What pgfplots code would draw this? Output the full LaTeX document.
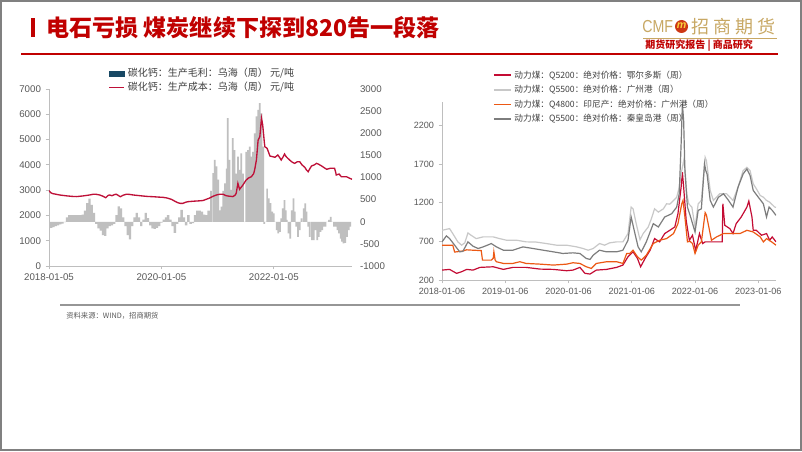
\documentclass[border=0pt]{standalone}
\usepackage{fontspec}
\setmainfont{Liberation Sans}
\newfontfamily\cjk{Noto Sans CJK SC}
\usepackage{graphicx}
\usepackage{pgfplots}
\pgfplotsset{compat=1.18}

\definecolor{costred}{RGB}{190,16,56}
\definecolor{bargray}{RGB}{191,191,191}
\definecolor{legteal}{RGB}{24,72,100}
\definecolor{ordred}{RGB}{196,12,52}
\definecolor{gzgray}{RGB}{200,200,200}
\definecolor{indorange}{RGB}{236,88,20}
\definecolor{qhdgray}{RGB}{125,125,125}
\definecolor{titlered}{RGB}{192,0,0}
\definecolor{gold}{RGB}{200,168,100}
\definecolor{axgray}{RGB}{190,190,190}
\definecolor{txtgray}{RGB}{89,89,89}
\definecolor{legtxt}{RGB}{64,64,64}
\definecolor{framegray}{RGB}{128,128,128}
\definecolor{logored}{RGB}{205,55,20}
\definecolor{logoyellow}{RGB}{250,210,60}
\definecolor{srcline}{RGB}{150,150,150}

\pgfplotsset{
  every axis/.append style={
    scale only axis,
    /pgf/number format/assume math mode=true,
    /pgf/number format/1000 sep={},
    axis line style={axgray, line width=0.6pt},
    tick style={axgray, line width=0.6pt},
    tick align=outside,
    major tick length=2.5pt,
  },
}

\begin{document}
\begin{tikzpicture}
\useasboundingbox (0,0) rectangle (601.5pt,338.25pt);
\fill[white] (0,0) rectangle (601.5pt,338.25pt);
\begin{scope}[x=0.75pt,y=-0.75pt,yshift=338.25pt]
\draw[framegray, line width=1.3pt] (1,1) rectangle (801,450);
% title
\fill[titlered] (31,18) rectangle (34.5,37);
\node[anchor=west, inner sep=0pt, text=titlered, font=\cjk\bfseries\fontsize{17.3}{20}\selectfont] at (46,27.5) {电石亏损 煤炭继续下探到820告一段落};
\draw[titlered, line width=0.9pt] (21,54) -- (778,54);
% logo
\node[anchor=west, inner sep=0pt, text=gold, font=\fontsize{13}{14}\selectfont] at (642,27) {\scalebox{0.82}[1]{CMF}};
\fill[logored] (681.5,26.5) circle (6.5);
\node[text=logoyellow, inner sep=0pt, font=\bfseries\itshape\fontsize{8}{8}\selectfont] at (681.5,26) {m};
\node[anchor=west, inner sep=0pt, text=gold, font=\cjk\fontsize{13.5}{14}\selectfont] at (691,27) {\makebox[63pt][l]{招\hfill 商\hfill 期\hfill 货}};
\draw[gold, line width=0.6pt] (643,38.5) -- (777,38.5);
\node[anchor=west, inner sep=0pt, text=titlered, font=\cjk\bfseries\fontsize{7.5}{9}\selectfont] at (645,46) {期货研究报告 | 商品研究};
% source
\draw[srcline, line width=1.2pt] (60,305) -- (740,305);
\node[anchor=west, inner sep=0pt, text=txtgray, font=\cjk\fontsize{5.5}{6}\selectfont] at (66,316) {资料来源：WIND，招商期货};
\end{scope}

% ---------------- Left chart: bars (right axis)
\begin{axis}[at={(36.75pt,138.75pt)}, anchor=south west, width=227.25pt, height=132.75pt,
  xmin=2018, xmax=2023.39, ymin=-1000, ymax=3000,
  axis x line=none, xtick=\empty,
  axis y line*=right, y axis line style={draw=none}, ytick style={draw=none},
  ytick={-1000,-500,0,500,1000,1500,2000,2500,3000},
  yticklabels={-1000,-500,0,500,1000,1500,2000,2500,3000},
  tick label style={font=\fontsize{7.3}{9}\selectfont, text=txtgray},
]
\addplot[ybar, bar width=0.042, bar shift=0pt, fill=bargray, draw=none] table {
2018.00 -150
2018.04 -140
2018.08 -120
2018.12 -100
2018.16 -80
2018.20 -60
2018.24 -40
2018.28 -10
2018.32 100
2018.36 150
2018.40 150
2018.44 150
2018.48 150
2018.52 150
2018.56 150
2018.60 160
2018.64 250
2018.68 420
2018.72 520
2018.76 380
2018.80 200
2018.84 -50
2018.88 -150
2018.92 -200
2018.96 -300
2019.00 -320
2019.04 -150
2019.08 -100
2019.12 -80
2019.16 -50
2019.20 150
2019.24 350
2019.28 300
2019.32 100
2019.36 -100
2019.40 -300
2019.44 -400
2019.48 -100
2019.52 100
2019.56 200
2019.60 100
2019.64 -100
2019.68 50
2019.72 200
2019.76 80
2019.80 -80
2019.84 -150
2019.88 -160
2019.92 -140
2019.96 -100
2020.00 -20
2020.04 50
2020.08 100
2020.12 150
2020.16 50
2020.20 -100
2020.24 -250
2020.28 -50
2020.32 100
2020.36 270
2020.40 100
2020.44 -80
2020.48 150
2020.52 -50
2020.56 -30
2020.60 150
2020.64 250
2020.68 250
2020.72 230
2020.76 160
2020.80 150
2020.84 250
};
\addplot[ybar, bar width=0.031, bar shift=0pt, fill=bargray, draw=none] table {
2020.88 700
2020.92 1100
2020.95 1400
2020.98 1250
2021.01 950
2021.04 260
2021.07 340
2021.10 700
2021.13 870
2021.16 1200
2021.18 2340
2021.21 1400
2021.24 720
2021.27 1890
2021.30 1620
2021.33 1090
2021.36 1470
2021.39 1170
2021.42 1545
2021.45 1090
2021.48 0
2021.51 1580
2021.54 1620
2021.57 1700
2021.60 1470
2021.63 1580
2021.66 2000
2021.69 2380
2021.72 2530
2021.75 2680
2021.78 2450
2021.81 1700
2021.83 -50
2021.85 0
2021.88 750
2021.91 530
2021.94 420
2021.97 230
2022.00 190
2022.03 0
2022.05 -190
2022.08 -260
2022.11 -230
2022.13 75
2022.16 300
2022.19 490
2022.21 260
2022.23 40
2022.26 -260
2022.29 -380
2022.32 260
2022.35 530
2022.37 230
2022.40 -110
2022.43 -340
2022.46 -190
2022.49 75
2022.53 300
2022.56 415
2022.58 230
2022.61 -110
2022.64 -340
2022.68 -415
2022.71 -415
2022.74 -190
2022.77 -415
2022.80 -340
2022.83 -230
2022.86 -190
2022.89 -110
2022.92 -110
2022.95 0
2022.98 40
2023.01 110
2023.04 0
2023.07 -110
2023.10 -110
2023.13 -190
2023.16 -260
2023.19 -380
2023.21 -450
2023.24 -490
2023.27 -475
2023.30 -340
2023.33 -190
2023.36 -110
};
\end{axis}

% ---------------- Left chart: cost line (left axis)
\begin{axis}[at={(36.75pt,138.75pt)}, anchor=south west, width=227.25pt, height=132.75pt,
  xmin=2018, xmax=2023.39, ymin=0, ymax=7000,
  axis x line*=bottom, axis y line*=left,
  xtick={2018,2020,2022}, xticklabels={2018-01-05,2020-01-05,2022-01-05},
  ytick={0,1000,2000,3000,4000,5000,6000,7000},
  yticklabels={0,1000,2000,3000,4000,5000,6000,7000},
  tick label style={font=\fontsize{7.3}{9}\selectfont, text=txtgray},
  legend style={at={(0.507,1.135)}, anchor=north, draw=none, fill=none,
    font=\cjk\fontsize{7.5}{9}\selectfont, text=legtxt, row sep=-1.2pt, inner sep=0pt},
  legend cell align=left,
]
\addlegendimage{legend image code/.code={\fill[legteal] (0pt,-1.9pt) rectangle (11.25pt,1.9pt);}}
\addlegendentry{碳化钙：生产毛利：乌海（周） 元/吨}
\addlegendimage{legend image code/.code={\draw[costred, line width=1.3pt] (0pt,0pt) -- (11.25pt,0pt);}}
\addlegendentry{碳化钙：生产成本：乌海（周） 元/吨}
\addplot[costred, line width=1pt, forget plot] table {
2018.00 2980
2018.03 2900
2018.07 2860
2018.12 2840
2018.19 2808
2018.31 2775
2018.40 2755
2018.49 2745
2018.60 2770
2018.72 2808
2018.78 2835
2018.84 2835
2018.90 2810
2018.96 2760
2019.01 2700
2019.05 2790
2019.08 2810
2019.12 2780
2019.17 2830
2019.20 2835
2019.24 2780
2019.27 2740
2019.32 2800
2019.38 2840
2019.44 2830
2019.50 2808
2019.60 2785
2019.67 2768
2019.76 2750
2019.85 2741
2019.95 2725
2020.03 2715
2020.10 2690
2020.18 2635
2020.24 2560
2020.29 2503
2020.34 2475
2020.38 2477
2020.43 2520
2020.47 2543
2020.55 2560
2020.62 2570
2020.68 2578
2020.74 2590
2020.80 2640
2020.86 2690
2020.92 2760
2020.98 2810
2021.04 2840
2021.10 2835
2021.14 2790
2021.18 2768
2021.27 2745
2021.31 2800
2021.33 2875
2021.36 3270
2021.39 3033
2021.42 3120
2021.45 3203
2021.50 3380
2021.54 3468
2021.60 3532
2021.64 3650
2021.66 3824
2021.69 4200
2021.72 4983
2021.75 5114
2021.77 5600
2021.78 5841
2021.80 5600
2021.81 5379
2021.83 4900
2021.84 4718
2021.88 4654
2021.93 4350
2022.02 4299
2022.07 4390
2022.10 4300
2022.13 4192
2022.16 4300
2022.19 4429
2022.21 4350
2022.23 4299
2022.28 4192
2022.33 4100
2022.37 4061
2022.42 4125
2022.46 4125
2022.50 4000
2022.55 3903
2022.58 3800
2022.61 3729
2022.64 3850
2022.67 3955
2022.72 4000
2022.76 4061
2022.80 4020
2022.85 3955
2022.90 3880
2022.94 3824
2023.00 3863
2023.08 3863
2023.10 3700
2023.11 3599
2023.16 3638
2023.20 3532
2023.29 3532
2023.35 3468
2023.39 3430
};
\end{axis}

% ---------------- Right chart
\begin{axis}[at={(331.5pt,128.25pt)}, anchor=south west, width=250.5pt, height=133.5pt,
  xmin=2018, xmax=2023.28, ymin=200, ymax=2500,
  axis x line*=bottom, axis y line*=left,
  xtick={2018,2019,2020,2021,2022,2023},
  xticklabels={2018-01-06,2019-01-06,2020-01-06,2021-01-06,2022-01-06,2023-01-06},
  ytick={200,700,1200,1700,2200},
  yticklabels={200,700,1200,1700,2200},
  tick label style={font=\fontsize{6.8}{8}\selectfont, text=txtgray},
  legend style={at={(0.152,1.193)}, anchor=north west, draw=none, fill=none,
    font=\cjk\fontsize{6.5}{8}\selectfont, text=legtxt, row sep=-0.1pt, inner sep=0pt},
  legend cell align=left,
]
\addlegendimage{legend image code/.code={\draw[ordred, line width=1.3pt] (0pt,0pt) -- (12.75pt,0pt);}}
\addlegendentry{动力煤：Q5200：绝对价格：鄂尔多斯（周）}
\addlegendimage{legend image code/.code={\draw[gzgray, line width=1.3pt] (0pt,0pt) -- (12.75pt,0pt);}}
\addlegendentry{动力煤：Q5500：绝对价格：广州港（周）}
\addlegendimage{legend image code/.code={\draw[indorange, line width=1.3pt] (0pt,0pt) -- (12.75pt,0pt);}}
\addlegendentry{动力煤：Q4800：印尼产：绝对价格：广州港（周）}
\addlegendimage{legend image code/.code={\draw[qhdgray, line width=1.3pt] (0pt,0pt) -- (12.75pt,0pt);}}
\addlegendentry{动力煤：Q5500：绝对价格：秦皇岛港（周）}
\addplot[ordred, line width=0.9pt, forget plot] table {
2018.00 328
2018.12 337
2018.23 286
2018.31 307
2018.39 337
2018.49 328
2018.60 363
2018.81 371
2018.97 337
2019.12 363
2019.33 363
2019.55 341
2019.76 337
2019.97 320
2020.07 328
2020.18 363
2020.26 286
2020.34 277
2020.44 328
2020.60 337
2020.76 363
2020.86 393
2020.94 500
2021.02 564
2021.09 478
2021.14 371
2021.21 478
2021.29 585
2021.36 735
2021.44 693
2021.52 800
2021.60 842
2021.68 885
2021.73 1056
2021.78 1400
2021.80 1592
2021.82 1400
2021.86 970
2021.91 714
2021.96 778
2022.01 580
2022.07 800
2022.12 671
2022.16 693
2022.43 693
2022.44 1185
2022.47 907
2022.55 864
2022.60 800
2022.65 928
2022.73 1014
2022.82 1142
2022.85 1220
2022.90 1014
2022.92 842
2022.97 842
2023.05 778
2023.13 800
2023.18 714
2023.22 757
2023.28 693
};
\addplot[gzgray, line width=0.9pt, forget plot] table {
2018.00 842
2018.07 855
2018.12 864
2018.17 800
2018.25 693
2018.31 650
2018.36 680
2018.41 808
2018.46 778
2018.54 735
2018.65 757
2018.81 757
2018.91 735
2019.02 714
2019.18 714
2019.33 693
2019.49 690
2019.65 671
2019.81 650
2019.97 650
2020.13 628
2020.23 607
2020.31 585
2020.39 607
2020.49 671
2020.57 650
2020.65 680
2020.76 693
2020.86 693
2020.94 800
2020.99 1142
2021.02 1120
2021.07 928
2021.13 720
2021.18 800
2021.26 885
2021.31 992
2021.36 1120
2021.42 1078
2021.50 1120
2021.55 1185
2021.60 1180
2021.66 1228
2021.71 1270
2021.75 1400
2021.79 1613
2021.82 1742
2021.84 1650
2021.87 1314
2021.90 1185
2021.95 1142
2022.00 880
2022.05 1185
2022.10 1228
2022.16 1785
2022.18 1742
2022.24 1357
2022.29 1228
2022.39 1314
2022.50 1314
2022.60 1228
2022.68 1400
2022.76 1613
2022.82 1656
2022.87 1613
2022.92 1442
2022.97 1378
2023.03 1292
2023.08 1270
2023.13 1228
2023.18 1206
2023.26 1142
2023.28 1140
};
\addplot[indorange, line width=0.9pt, forget plot] table {
2018.00 650
2018.17 650
2018.20 561
2018.33 575
2018.39 590
2018.49 585
2018.62 580
2018.64 457
2018.78 457
2018.81 480
2018.82 564
2018.84 457
2018.86 436
2018.97 414
2019.12 414
2019.23 436
2019.33 414
2019.55 405
2019.76 393
2019.97 405
2020.07 423
2020.18 414
2020.28 371
2020.36 350
2020.44 414
2020.60 436
2020.76 436
2020.86 414
2020.92 543
2020.97 543
2021.02 585
2021.09 500
2021.15 457
2021.23 521
2021.34 671
2021.44 714
2021.55 735
2021.66 800
2021.73 928
2021.79 1185
2021.81 1228
2021.84 1014
2021.88 693
2021.92 700
2021.96 671
2022.00 543
2022.05 650
2022.10 693
2022.16 1070
2022.18 1040
2022.26 714
2022.34 757
2022.45 800
2022.60 800
2022.71 800
2022.82 842
2022.92 821
2023.03 757
2023.08 693
2023.13 735
2023.21 693
2023.28 650
};
\addplot[qhdgray, line width=0.9pt, forget plot] table {
2018.00 693
2018.07 770
2018.12 735
2018.20 650
2018.28 564
2018.33 570
2018.41 693
2018.49 637
2018.57 607
2018.65 628
2018.78 671
2018.86 628
2018.97 585
2019.12 585
2019.28 628
2019.44 607
2019.60 585
2019.76 564
2019.91 543
2020.07 551
2020.18 543
2020.28 478
2020.34 466
2020.39 521
2020.49 585
2020.60 564
2020.76 564
2020.86 585
2020.94 714
2020.99 1014
2021.05 800
2021.10 628
2021.15 564
2021.23 693
2021.34 928
2021.42 885
2021.52 1014
2021.63 1056
2021.71 1142
2021.75 1314
2021.78 1956
2021.80 2480
2021.82 2256
2021.84 1613
2021.88 1142
2021.93 1014
2022.00 820
2022.05 1100
2022.10 1120
2022.15 1700
2022.17 1613
2022.19 1570
2022.24 1228
2022.29 1142
2022.37 1270
2022.45 1314
2022.53 1228
2022.60 1142
2022.68 1400
2022.76 1570
2022.82 1635
2022.87 1550
2022.92 1357
2023.00 1270
2023.08 1185
2023.13 1014
2023.17 1142
2023.22 1100
2023.28 1035
};
\end{axis}
\end{tikzpicture}
\end{document}
